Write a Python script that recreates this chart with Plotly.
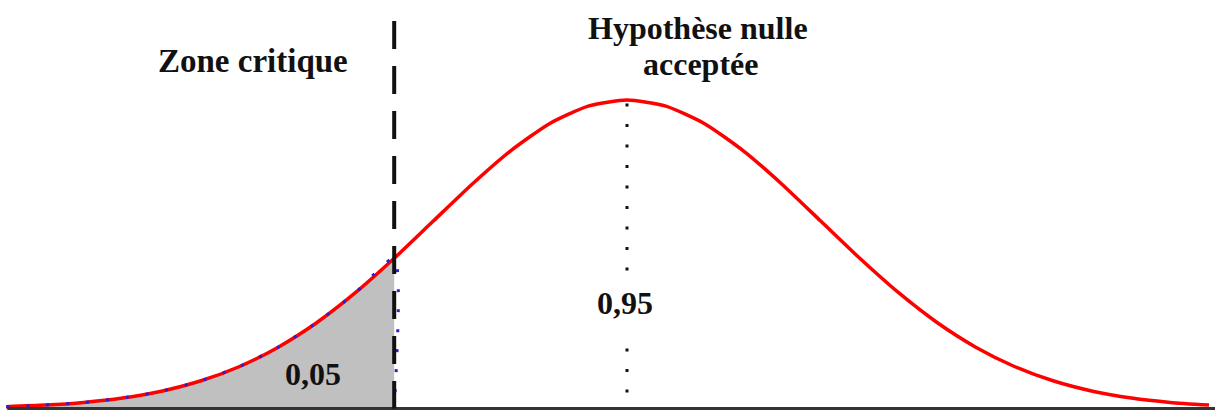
import plotly.graph_objects as go

# Standard normal density sampled along the z axis
z_values = [-3.2, -3.0, -2.8, -2.6, -2.4, -2.2, -2.0, -1.8, -1.6, -1.4, -1.2,
            -1.0, -0.8, -0.6, -0.4, -0.2, 0.0, 0.2, 0.4, 0.6, 0.8, 1.0,
            1.2, 1.4, 1.6, 1.8, 2.0, 2.2, 2.4, 2.6, 2.8, 3.0]
density = [0.0024, 0.0044, 0.0079, 0.0136, 0.0224, 0.0355, 0.0540, 0.0790,
           0.1109, 0.1497, 0.1942, 0.2420, 0.2897, 0.3332, 0.3683, 0.3910,
           0.3989, 0.3910, 0.3683, 0.3332, 0.2897, 0.2420, 0.1942, 0.1497,
           0.1109, 0.0790, 0.0540, 0.0355, 0.0224, 0.0136, 0.0079, 0.0044]

critical_z = -1.2
mean_z = 0.0

label_critical = "Zone critique"
label_accept_1 = "Hypothèse nulle"
label_accept_2 = "acceptée"
label_alpha = "0,05"
label_conf = "0,95"

W, H = 1215, 410
X_RANGE = [-3.232, 3.031]
Y_RANGE = [-0.00194, 0.5282]


def paper_y(px):
    """Convert a pixel row (from the top) into paper coordinates."""
    return 1 - px / H


# Left tail of the distribution (rejection region)
tail_z = [z for z in z_values if z <= critical_z]
tail_d = [d for z, d in zip(z_values, density) if z <= critical_z]

fig = go.Figure()

# Grey shaded rejection region
fig.add_trace(go.Scatter(
    x=tail_z, y=tail_d, mode="lines", fill="tozeroy",
    fillcolor="#c0c0c0", line=dict(width=0, shape="spline", smoothing=0.6),
    hoverinfo="skip",
))

# Density curve
fig.add_trace(go.Scatter(
    x=z_values, y=density, mode="lines",
    line=dict(color="#ff0000", width=3.5, shape="spline", smoothing=0.6),
    hoverinfo="skip",
))

# Dotted blue outline of the shaded region
fig.add_trace(go.Scatter(
    x=tail_z + [critical_z], y=tail_d + [0], mode="lines",
    line=dict(color="#2a1fd0", width=3, dash="3px,17px",
              shape="spline", smoothing=0.6),
    hoverinfo="skip",
))

shapes = [
    # baseline
    dict(type="line", xref="paper", yref="y", x0=0.006, x1=1, y0=0, y1=0,
         line=dict(color="#333333", width=3)),
    # critical value (dashed)
    dict(type="line", xref="x", yref="paper", x0=critical_z, x1=critical_z,
         y0=paper_y(21), y1=paper_y(408.5),
         line=dict(color="#111111", width=4, dash="28px,17px")),
    # mean (dotted), split around the 0,95 label
    dict(type="line", xref="x", yref="paper", x0=mean_z, x1=mean_z,
         y0=paper_y(103.5), y1=paper_y(272),
         line=dict(color="#111111", width=3, dash="3px,17.5px")),
    dict(type="line", xref="x", yref="paper", x0=mean_z, x1=mean_z,
         y0=paper_y(348.5), y1=paper_y(408),
         line=dict(color="#111111", width=3, dash="3px,17.5px")),
]

font = dict(family="Liberation Serif, Times New Roman, serif", color="#111111")


def label(text, x, py, size):
    return dict(text=f"<b>{text}</b>", x=x, y=paper_y(py),
                xref="x", yref="paper", xanchor="center", yanchor="middle",
                showarrow=False, font=dict(size=size, **font))


annotations = [
    label(label_critical, -1.93, 61, 33),
    label(label_accept_1, 0.365, 28, 32),
    label(label_accept_2, 0.38, 64, 32),
    label(label_conf, -0.01, 303, 32),
    label(label_alpha, -1.62, 374, 32),
]

fig.update_layout(
    width=W, height=H,
    margin=dict(l=0, r=0, t=0, b=0),
    paper_bgcolor="white", plot_bgcolor="white",
    showlegend=False,
    xaxis=dict(range=X_RANGE, visible=False, fixedrange=True),
    yaxis=dict(range=Y_RANGE, visible=False, fixedrange=True),
    shapes=shapes,
    annotations=annotations,
)

fig.write_html("out.html")
